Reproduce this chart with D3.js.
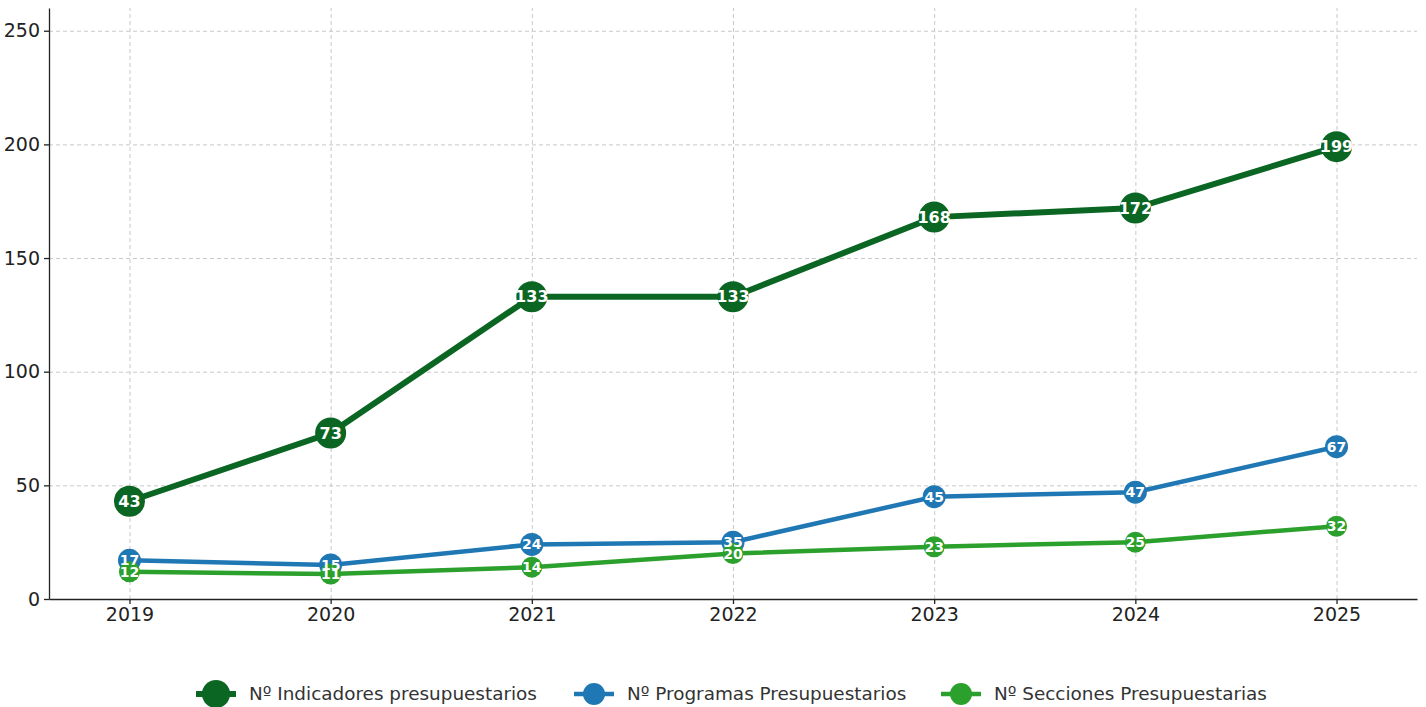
<!DOCTYPE html>
<html>
<head>
<meta charset="utf-8">
<script src="https://cdn.jsdelivr.net/npm/d3@7"></script>
<style>
  body { margin: 0; background: #fff; }
  text { font-family: "DejaVu Sans", sans-serif; }
  .grid line { stroke: #c8c8c8; stroke-dasharray: 4,3; stroke-width: 1; }
  .grid path { display: none; }
  .axis text { font-size: 19px; fill: #222; font-family: "DejaVu Sans", sans-serif; }
  .axis path, .axis line { stroke: #222; stroke-width: 1.3; }
</style>
</head>
<body>
<div id="chart"></div>
<script>
// years on the x axis
var years = [2019, 2020, 2021, 2022, 2023, 2024, 2025];

// series values
var indicadores = [43, 73, 133, 133, 168, 172, 199];
var programas = [17, 15, 24, 25, 45, 47, 67];
var secciones = [12, 11, 14, 20, 23, 25, 32];

// point labels as printed on the original (2022 programas shows 35)
var indicadoresLabels = ["43", "73", "133", "133", "168", "172", "199"];
var programasLabels = ["17", "15", "24", "35", "45", "47", "67"];
var seccionesLabels = ["12", "11", "14", "20", "23", "25", "32"];

var seriesNames = ["Nº Indicadores presupuestarios", "Nº Programas Presupuestarios", "Nº Secciones Presupuestarias"];
var yTicks = [0, 50, 100, 150, 200, 250];

var svgWidth = 1426;
var svgHeight = 707;
var margin = { top: 8, right: 9, bottom: 108, left: 49 };
var width = svgWidth - margin.left - margin.right;
var height = svgHeight - margin.top - margin.bottom;

var svg = d3.select("#chart").append("svg")
  .attr("width", svgWidth)
  .attr("height", svgHeight);

var chartGroup = svg.append("g")
  .attr("transform", `translate(${margin.left}, ${margin.top})`);

var xScale = d3.scaleLinear().domain([2018.6, 2025.4]).range([0, width]);
var yScale = d3.scaleLinear().domain([0, 260]).range([height, 0]);

// grid
chartGroup.append("g").attr("class", "grid")
  .attr("transform", `translate(0, ${height})`)
  .call(d3.axisBottom(xScale).tickValues(years).tickSize(-height).tickFormat(""));
chartGroup.append("g").attr("class", "grid")
  .call(d3.axisLeft(yScale).tickValues(yTicks).tickSize(-width).tickFormat(""));

// axes
var xAxis = chartGroup.append("g").attr("class", "axis")
  .attr("transform", `translate(0, ${height})`)
  .call(d3.axisBottom(xScale).tickValues(years).tickFormat(d3.format("d")).tickSize(5).tickSizeOuter(0).tickPadding(4));
var yAxis = chartGroup.append("g").attr("class", "axis")
  .call(d3.axisLeft(yScale).tickValues(yTicks).tickSize(5).tickSizeOuter(0).tickPadding(4));
xAxis.selectAll(".tick line").attr("stroke", "#888");
yAxis.selectAll(".tick line").attr("stroke", "#888");

var series = [
  { name: seriesNames[0], values: indicadores, labels: indicadoresLabels, color: "#0b6623", width: 6, r: 15.5, font: 16 },
  { name: seriesNames[1], values: programas, labels: programasLabels, color: "#1f77b4", width: 4.5, r: 11.5, font: 14 },
  { name: seriesNames[2], values: secciones, labels: seccionesLabels, color: "#2ca02c", width: 4.5, r: 10.5, font: 14 }
];

var line = d3.line()
  .x(d => xScale(d.year))
  .y(d => yScale(d.value));

series.forEach(function(s) {
  s.points = years.map((y, i) => ({ year: y, value: s.values[i], label: s.labels[i] }));
});

// lines and markers
series.forEach(function(s) {
  var g = chartGroup.append("g");
  g.append("path")
    .datum(s.points)
    .attr("d", line)
    .attr("fill", "none")
    .attr("stroke", s.color)
    .attr("stroke-width", s.width);
  g.selectAll("circle").data(s.points).enter().append("circle")
    .attr("cx", d => xScale(d.year))
    .attr("cy", d => yScale(d.value))
    .attr("r", s.r)
    .attr("fill", s.color);
});

// value labels on top of every marker
series.forEach(function(s) {
  chartGroup.append("g").selectAll("text").data(s.points).enter().append("text")
    .attr("x", d => xScale(d.year))
    .attr("y", d => yScale(d.value))
    .attr("dy", "0.36em")
    .attr("text-anchor", "middle")
    .attr("font-size", s.font + "px")
    .attr("font-weight", "bold")
    .attr("fill", "white")
    .text(d => d.label);
});

// legend
var legendY = 694;
var legendX = [196, 574, 941];
series.forEach(function(s, i) {
  var lg = svg.append("g").attr("transform", `translate(${legendX[i]}, ${legendY})`);
  lg.append("line")
    .attr("x1", 0).attr("x2", 40)
    .attr("stroke", s.color)
    .attr("stroke-width", s.width);
  lg.append("circle")
    .attr("cx", 20)
    .attr("r", i === 0 ? 14 : 11)
    .attr("fill", s.color);
  lg.append("text")
    .attr("x", 53)
    .attr("dy", "0.35em")
    .attr("font-size", "18.4px")
    .attr("fill", "#333")
    .text(s.name);
});
</script>
</body>
</html>
